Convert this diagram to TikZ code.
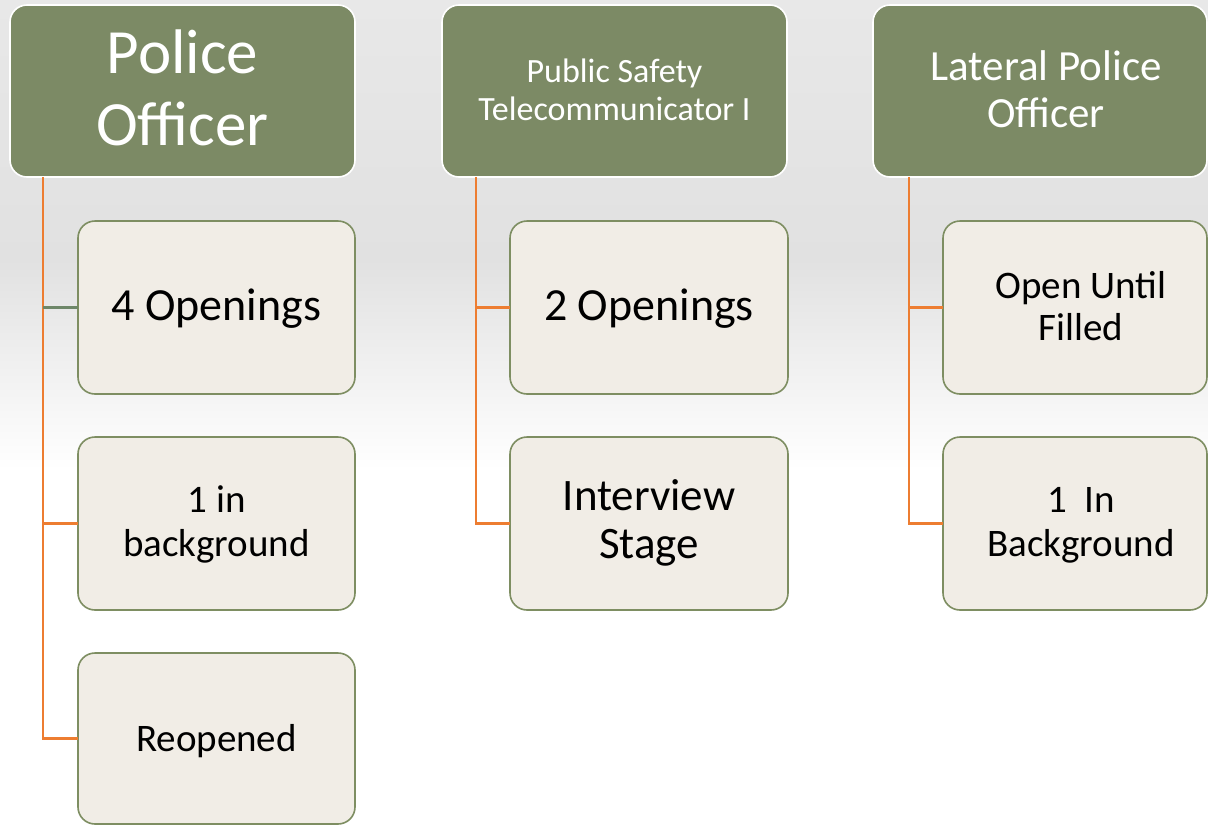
\documentclass[tikz,border=0pt]{standalone}
\usepackage{fontspec}
\setmainfont{Carlito}
\usetikzlibrary{calc}
\definecolor{hdrgreen}{RGB}{124,138,101}
\definecolor{boxfill}{RGB}{241,237,230}
\definecolor{boxline}{RGB}{126,142,98}
\definecolor{conorange}{RGB}{237,125,49}
\definecolor{congreen}{RGB}{110,135,105}
\definecolor{bgtop}{RGB}{232,232,232}
\definecolor{bgmid}{RGB}{225,225,225}
\tikzset{
  header/.style={draw=white, line width=1.6pt, fill=hdrgreen, rounded corners=17pt, inner sep=0pt, outer sep=0pt},
  childbox/.style={draw=boxline, line width=1.6pt, fill=boxfill, rounded corners=17pt, inner sep=0pt, outer sep=0pt},
  conn/.style={draw=conorange, line width=2.2pt},
  conngreen/.style={draw=congreen, line width=2.2pt},
  htxt/.style={text=white, anchor=base, inner sep=0pt},
  ctxt/.style={text=black, anchor=base, inner sep=0pt},
}
\newcommand{\fs}[1]{\fontsize{#1}{#1}\selectfont}
\begin{document}
\begin{tikzpicture}[x=1pt,y=-1pt]
\useasboundingbox (0,0) rectangle (1208,825);
\clip (0,0) rectangle (1208,825);
% background
\fill[white] (0,0) rectangle (1208,825);
\shade[top color=bgtop, bottom color=bgmid] (0,0) rectangle (1208,260);
\shade[top color=bgmid, bottom color=white] (0,259) rectangle (1208,470);
% headers
\node[header, minimum width=345pt, minimum height=172pt] (h1) at (182.5,91) {};
\node[header, minimum width=345pt, minimum height=172pt] (h2) at (614.5,91) {};
\node[header, minimum width=334pt, minimum height=172pt] (h3) at (1040,91) {};
% children
\node[childbox, minimum width=277pt, minimum height=173pt] (c11) at (216.5,307.5) {};
\node[childbox, minimum width=277pt, minimum height=173pt] (c12) at (216.5,523.5) {};
\node[childbox, minimum width=277pt, minimum height=171pt] (c13) at (216.5,738.5) {};
\node[childbox, minimum width=278pt, minimum height=173pt] (c21) at (649,307.5) {};
\node[childbox, minimum width=278pt, minimum height=173pt] (c22) at (649,523.5) {};
\node[childbox, minimum width=264pt, minimum height=173pt] (c31) at (1075,307.5) {};
\node[childbox, minimum width=264pt, minimum height=173pt] (c32) at (1075,523.5) {};
% connectors
\coordinate (v1) at ($(h1.south west)+(33,0)$);
\coordinate (v2) at ($(h2.south west)+(34,0)$);
\coordinate (v3) at ($(h3.south west)+(36,0)$);
\draw[conn] (v1) |- (c13.west);
\draw[conn] (v1) |- (c12.west);
\draw[conngreen] (v1 |- c11.west) -- (c11.west);
\draw[conn] (v2) |- (c22.west);
\draw[conn] (v2) |- (c21.west);
\draw[conn] (v3) |- (c32.west);
\draw[conn] (v3) |- (c31.west);
% header texts
\node[htxt, font=\fs{63}] at (182.5,73) {Police};
\node[htxt, font=\fs{63}] at (182.5,145) {Officer};
\node[htxt, font=\fs{34}] at (614.5,82) {Public Safety};
\node[htxt, font=\fs{34}] at (614.5,120) {Telecommunicator I};
\node[htxt, font=\fs{43}] at (1046,80) {Lateral Police};
\node[htxt, font=\fs{43}] at (1046,127) {Officer};
% child texts
\node[ctxt, font=\fs{46}] at (216.5,320) {4 Openings};
\node[ctxt, font=\fs{39}] at (216.5,512) {1 in};
\node[ctxt, font=\fs{39}] at (216.5,556) {background};
\node[ctxt, font=\fs{39}] at (216.5,751) {Reopened};
\node[ctxt, font=\fs{46}] at (649,320) {2 Openings};
\node[ctxt, font=\fs{45}] at (649,510) {Interview};
\node[ctxt, font=\fs{45}] at (649,558) {Stage};
\node[ctxt, font=\fs{39}] at (1081,298) {Open Until};
\node[ctxt, font=\fs{39}] at (1081,340) {Filled};
\node[ctxt, font=\fs{39}] at (1081,512) {1\ \ In};
\node[ctxt, font=\fs{39}] at (1081,556) {Background};
\end{tikzpicture}
\end{document}
